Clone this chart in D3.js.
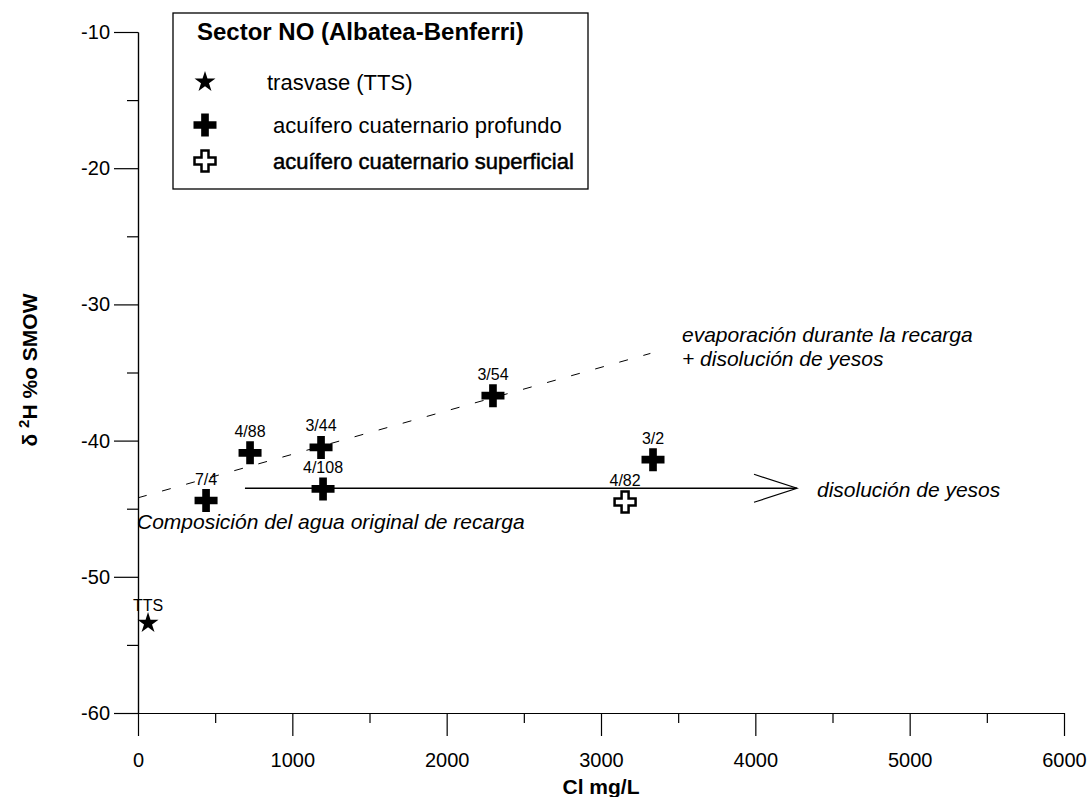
<!DOCTYPE html>
<meta charset="utf-8">
<html>
  <head>
    <style>
      body { margin: 0; background: #fff; }
      text { font-family: "Liberation Sans", Arial, sans-serif; fill: #000; }
      .axis path, .axis line { stroke: #000; stroke-width: 1.2px; }
      .axis text { font-size: 20px; }
      .ptlabel { font-size: 16px; text-anchor: middle; }
      .note { font-size: 21px; font-style: italic; }
      .leg { font-size: 22px; }
    </style>
    <script src="https://d3js.org/d3.v7.min.js"></script>
  </head>
  <body>
    <div id="chart"></div>
    <script type="text/javascript">
      // acuifero cuaternario profundo
      var profLabels = ["7/4", "4/88", "3/44", "4/108", "3/54", "3/2"],
          profCl     = [441, 726, 1186, 1199, 2300, 3337],
          profH      = [-44.4, -40.9, -40.5, -43.55, -36.7, -41.4];
      // acuifero cuaternario superficial
      var supLabels = ["4/82"],
          supCl     = [3156],
          supH      = [-44.5];
      // trasvase
      var ttsLabels = ["TTS"],
          ttsCl     = [65],
          ttsH      = [-53.4];
      // tendencias
      var evapCl = [0, 3320],
          evapH  = [-44.2, -33.6];
      var disCl = [693, 4270],
          disH  = [-43.5, -43.5];

      var xMajor = [0, 1000, 2000, 3000, 4000, 5000, 6000],
          xMinor = [500, 1500, 2500, 3500, 4500, 5500],
          yMajor = [-60, -50, -40, -30, -20, -10],
          yMinor = [-55, -45, -35, -25, -15];

      var legendItems = ["trasvase (TTS)", "acuífero cuaternario profundo", "acuífero cuaternario superficial"];

      var width = 1091, height = 797;

      var svg = d3.select("#chart").append("svg")
          .attr("width", width)
          .attr("height", height);

      var x = d3.scaleLinear().domain([0, 6000]).range([138, 1064]);
      var y = d3.scaleLinear().domain([-60, -10]).range([713, 32]);

      var plain = function(d) { return String(d); };

      // axes
      svg.append("g").attr("class", "axis")
          .attr("transform", "translate(0," + y(-60) + ")")
          .call(d3.axisBottom(x).tickValues(xMinor).tickSize(10).tickSizeOuter(0).tickFormat(""));
      svg.append("g").attr("class", "axis")
          .attr("transform", "translate(0," + y(-60) + ")")
          .call(d3.axisBottom(x).tickValues(xMajor).tickSize(23).tickSizeOuter(0).tickPadding(17).tickFormat(plain));

      svg.append("g").attr("class", "axis")
          .attr("transform", "translate(" + x(0) + ",0)")
          .call(d3.axisLeft(y).tickValues(yMinor).tickSize(11).tickSizeOuter(0).tickFormat(""));
      svg.append("g").attr("class", "axis")
          .attr("transform", "translate(" + x(0) + ",0)")
          .call(d3.axisLeft(y).tickValues(yMajor).tickSize(24).tickSizeOuter(0).tickPadding(4).tickFormat(plain));

      // axis titles
      svg.append("text")
          .attr("x", x(3000))
          .attr("y", 794)
          .attr("text-anchor", "middle")
          .style("font-size", "21px")
          .style("font-weight", "bold")
          .text("Cl mg/L");

      var yt = svg.append("text")
          .attr("transform", "translate(37,370) rotate(-90)")
          .attr("text-anchor", "middle")
          .style("font-size", "21px")
          .style("font-weight", "bold");
      yt.append("tspan").text("δ ");
      yt.append("tspan").attr("dy", -8).style("font-size", "15px").text("2");
      yt.append("tspan").attr("dy", 8).text("H %o SMOW");

      // trend lines
      var line = d3.line().x(function(d) { return x(d[0]); }).y(function(d) { return y(d[1]); });

      svg.append("path")
          .datum(d3.zip(evapCl, evapH))
          .attr("d", line)
          .attr("fill", "none")
          .attr("stroke", "#000")
          .attr("stroke-width", 1)
          .attr("stroke-dasharray", "9,16");

      svg.append("path")
          .datum(d3.zip(disCl, disH))
          .attr("d", line)
          .attr("fill", "none")
          .attr("stroke", "#000")
          .attr("stroke-width", 1.3);

      // open arrow head
      var tipX = x(disCl[1]), tipY = y(disH[1]);
      svg.append("path")
          .attr("d", "M" + (tipX - 43) + "," + (tipY - 14) + "L" + tipX + "," + tipY + "L" + (tipX - 43) + "," + (tipY + 14))
          .attr("fill", "none")
          .attr("stroke", "#000")
          .attr("stroke-width", 1.2);

      // annotations
      svg.append("text").attr("class", "note").attr("x", 682).attr("y", 342).text("evaporación durante la recarga");
      svg.append("text").attr("class", "note").attr("x", 682).attr("y", 366).text("+ disolución de yesos");
      svg.append("text").attr("class", "note").attr("x", 817).attr("y", 497).text("disolución de yesos");
      svg.append("text").attr("class", "note").attr("x", 137).attr("y", 529).text("Composición del agua original de recarga");

      // symbols
      var crossSym = d3.symbol().type(d3.symbolCross).size(294);
      var openSym = d3.symbol().type(d3.symbolCross).size(245);
      var starSym = d3.symbol().type(d3.symbolStar).size(136);

      var prof = d3.zip(profCl, profH, profLabels);
      var sup = d3.zip(supCl, supH, supLabels);
      var tts = d3.zip(ttsCl, ttsH, ttsLabels);

      svg.selectAll(".prof").data(prof).enter().append("path")
          .attr("class", "prof")
          .attr("d", crossSym)
          .attr("transform", function(d) { return "translate(" + x(d[0]) + "," + y(d[1]) + ")"; })
          .attr("fill", "#000");

      svg.selectAll(".sup").data(sup).enter().append("path")
          .attr("class", "sup")
          .attr("d", openSym)
          .attr("transform", function(d) { return "translate(" + x(d[0]) + "," + y(d[1]) + ")"; })
          .attr("fill", "#fff")
          .attr("stroke", "#000")
          .attr("stroke-width", 2.5);

      svg.selectAll(".tts").data(tts).enter().append("path")
          .attr("class", "tts")
          .attr("d", starSym)
          .attr("transform", function(d) { return "translate(" + x(d[0]) + "," + y(d[1]) + ")"; })
          .attr("fill", "#000");

      svg.selectAll(".ptlabel").data(prof.concat(sup, tts)).enter().append("text")
          .attr("class", "ptlabel")
          .attr("x", function(d) { return x(d[0]); })
          .attr("y", function(d) { return y(d[1]) - (d[2] == "TTS" ? 12 : 16); })
          .text(function(d) { return d[2]; });

      // legend
      var lg = svg.append("g");
      lg.append("rect")
          .attr("x", 173).attr("y", 13)
          .attr("width", 415).attr("height", 176)
          .attr("fill", "#fff")
          .attr("stroke", "#000")
          .attr("stroke-width", 1.3);
      lg.append("text")
          .attr("x", 197).attr("y", 40)
          .style("font-size", "24px")
          .style("font-weight", "bold")
          .text("Sector NO (Albatea-Benferri)");

      var rowY = [82, 125, 161];
      lg.append("path").attr("d", starSym).attr("transform", "translate(205," + rowY[0] + ")").attr("fill", "#000");
      lg.append("path").attr("d", crossSym).attr("transform", "translate(205," + rowY[1] + ")").attr("fill", "#000");
      lg.append("path").attr("d", openSym).attr("transform", "translate(205," + rowY[2] + ")")
          .attr("fill", "#fff").attr("stroke", "#000").attr("stroke-width", 2.5);

      lg.selectAll(".leg").data(legendItems).enter().append("text")
          .attr("class", "leg")
          .attr("x", function(d, i) { return i == 0 ? 267 : 273; })
          .attr("y", function(d, i) { return rowY[i] + 8; })
          .style("stroke", function(d, i) { return i == 2 ? "#000" : "none"; })
          .style("stroke-width", 0.5)
          .text(function(d) { return d; });
    </script>
  </body>
</html>
